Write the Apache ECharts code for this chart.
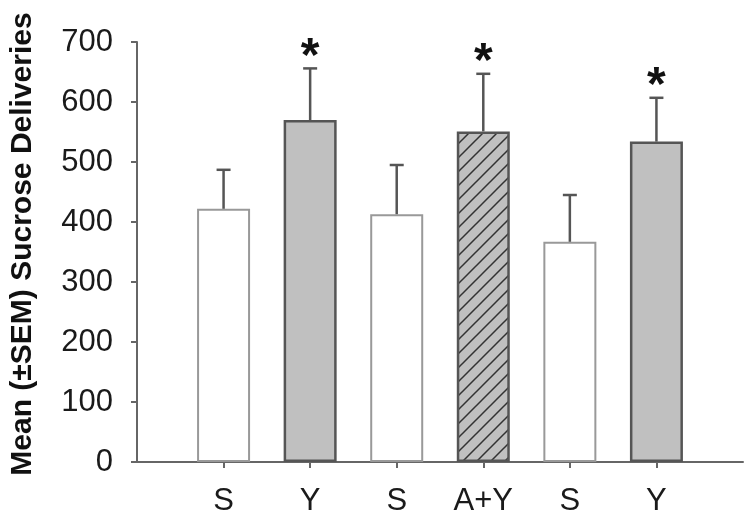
<!DOCTYPE html>
<html>
<head>
<meta charset="utf-8">
<script src="https://cdn.jsdelivr.net/npm/echarts@6/dist/echarts.min.js"></script>
<style>html,body{margin:0;padding:0;background:#fff}#c{width:750px;height:520px}</style>
</head>
<body>
<div id="c"></div>
<script>
var categories = ['S', 'Y', 'S', 'A+Y', 'S', 'Y'];
var means = [422, 570, 413, 551, 367, 534];
var sem = [65, 86, 82, 96, 78, 73];
var significant = [false, true, false, true, false, true];
var fillType = ['white', 'gray', 'white', 'hatch', 'white', 'gray'];
var yTicks = [0, 100, 200, 300, 400, 500, 600, 700];

// axis categories padded with empty slots at both ends
var axisCats = [''].concat(categories).concat(['']);

function makeHatch() {
  var c = document.createElement('canvas');
  c.width = 14; c.height = 14;
  var g = c.getContext('2d');
  g.fillStyle = '#c0c0c0';
  g.fillRect(0, 0, 14, 14);
  g.strokeStyle = '#333';
  g.lineWidth = 1.5;
  g.beginPath();
  g.moveTo(-2, 16); g.lineTo(16, -2);
  g.moveTo(-2, 2); g.lineTo(2, -2);
  g.moveTo(12, 16); g.lineTo(16, 12);
  g.stroke();
  return c;
}
var hatch = makeHatch();

var FONT = 'Liberation Sans, Arial, sans-serif';

var barData = means.map(function (v, i) {
  var t = fillType[i];
  var style;
  if (t === 'white') style = { color: '#ffffff', borderColor: '#999999', borderWidth: 2 };
  else if (t === 'gray') style = { color: '#c0c0c0', borderColor: '#555555', borderWidth: 2.5 };
  else style = { color: { image: hatch, repeat: 'repeat' }, borderColor: '#555555', borderWidth: 2.5 };
  return { value: [i + 1, v], itemStyle: style };
});

var errData = means.map(function (v, i) { return [i + 1, v, v + sem[i], significant[i] ? 1 : 0]; });

var chart = echarts.init(document.getElementById('c'), null, { renderer: 'canvas' });
chart.setOption({
  animation: false,
  grid: { left: 133, right: 7, top: 42, bottom: 58, containLabel: false },
  xAxis: {
    type: 'category',
    data: axisCats,
    boundaryGap: false,
    axisLine: { lineStyle: { color: '#666', width: 2 } },
    axisTick: { show: true, length: 6, lineStyle: { color: '#666', width: 2 },
      interval: function (idx) { return idx > 0 && idx < axisCats.length - 1; } },
    axisLabel: { interval: 0, margin: 24, color: '#1a1a1a', fontSize: 31, fontFamily: FONT },
    splitLine: { show: false }
  },
  yAxis: {
    type: 'value',
    min: 0, max: 700, interval: 100,
    name: 'Mean (\u00B1SEM) Sucrose Deliveries',
    nameLocation: 'middle',
    nameRotate: 90,
    nameGap: 99,
    nameTextStyle: { fontSize: 30, fontWeight: 'bold', color: '#111', fontFamily: FONT,
      padding: [0, 0, 0, 16] },
    axisLine: { show: true, lineStyle: { color: '#666', width: 2 } },
    axisTick: { show: true, length: 6, lineStyle: { color: '#666', width: 2 } },
    axisLabel: { margin: 24, color: '#1a1a1a', fontSize: 31, fontFamily: FONT,
      formatter: function (v) { return yTicks.indexOf(v) >= 0 ? String(v) : ''; } },
    splitLine: { show: false }
  },
  series: [
    {
      type: 'bar',
      data: barData,
      barWidth: 53,
      z: 2
    },
    {
      type: 'custom',
      z: 3,
      data: errData,
      renderItem: function (params, api) {
        var base = api.coord([api.value(0), api.value(1)]);
        var top = api.coord([api.value(0), api.value(2)]);
        var half = 7;
        var children = [
          { type: 'line', shape: { x1: base[0], y1: base[1], x2: top[0], y2: top[1] },
            style: { stroke: '#555', lineWidth: 2.5 } },
          { type: 'line', shape: { x1: top[0] - half, y1: top[1], x2: top[0] + half, y2: top[1] },
            style: { stroke: '#555', lineWidth: 2.5 } }
        ];
        if (api.value(3) === 1) {
          children.push({ type: 'text', x: top[0], y: top[1] - 11,
            style: { text: '*', fontSize: 48, fontWeight: 'bold', fill: '#111',
              fontFamily: FONT, align: 'center', verticalAlign: 'middle' } });
        }
        return { type: 'group', children: children };
      }
    }
  ]
});
</script>
</body>
</html>
